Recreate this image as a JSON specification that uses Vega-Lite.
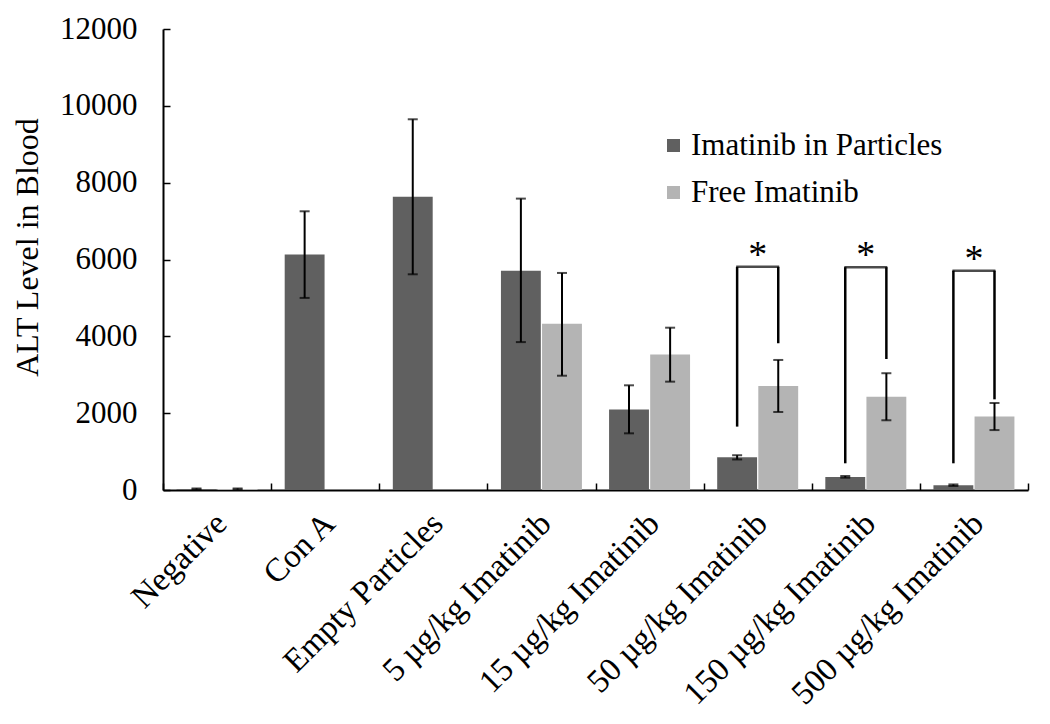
{
  "$schema": "https://vega.github.io/schema/vega-lite/v6.json",
  "width": 865,
  "height": 461,
  "autosize": {"type": "none"},
  "padding": {"left": 163, "top": 29, "right": 22, "bottom": 234},
  "background": "white",
  "config": {
    "view": {"stroke": null},
    "font": "Liberation Serif",
    "axis": {
      "grid": false,
      "domainColor": "black",
      "domainWidth": 2,
      "tickColor": "black",
      "tickWidth": 1.5,
      "labelColor": "black",
      "labelFont": "Liberation Serif",
      "labelFontSize": 31,
      "titleFont": "Liberation Serif",
      "titleFontSize": 32,
      "titleFontWeight": "normal",
      "titleColor": "black"
    },
    "axisX": {
      "tickSize": -7,
      "tickBand": "extent",
      "labelAngle": -45,
      "labelAlign": "right",
      "labelBaseline": "middle",
      "labelPadding": 35,
      "labelOffset": 4,
      "labelFontSize": 33,
      "labelLimit": 0,
      "title": null
    },
    "axisY": {
      "tickSize": -7,
      "labelPadding": 33,
      "titleX": -126,
      "titleY": 218,
      "titleAngle": -90,
      "titleAlign": "center",
      "titleBaseline": "alphabetic"
    }
  },
  "datasets": {
    "bars": [
      {"group": "Negative", "series": "Imatinib in Particles", "value": 25, "lo": 10, "hi": 40},
      {"group": "Negative", "series": "Free Imatinib", "value": 25, "lo": 10, "hi": 40},
      {"group": "Con A", "series": "Imatinib in Particles", "value": 6130, "lo": 5000, "hi": 7255},
      {"group": "Empty Particles", "series": "Imatinib in Particles", "value": 7635, "lo": 5615, "hi": 9650},
      {"group": "5 µg/kg Imatinib", "series": "Imatinib in Particles", "value": 5710, "lo": 3850, "hi": 7585},
      {"group": "5 µg/kg Imatinib", "series": "Free Imatinib", "value": 4330, "lo": 2975, "hi": 5650},
      {"group": "15 µg/kg Imatinib", "series": "Imatinib in Particles", "value": 2095, "lo": 1475, "hi": 2725},
      {"group": "15 µg/kg Imatinib", "series": "Free Imatinib", "value": 3530, "lo": 2820, "hi": 4225},
      {"group": "50 µg/kg Imatinib", "series": "Imatinib in Particles", "value": 850, "lo": 795, "hi": 905},
      {"group": "50 µg/kg Imatinib", "series": "Free Imatinib", "value": 2710, "lo": 2030, "hi": 3385},
      {"group": "150 µg/kg Imatinib", "series": "Imatinib in Particles", "value": 340, "lo": 320, "hi": 365},
      {"group": "150 µg/kg Imatinib", "series": "Free Imatinib", "value": 2430, "lo": 1815, "hi": 3040},
      {"group": "500 µg/kg Imatinib", "series": "Imatinib in Particles", "value": 125, "lo": 105, "hi": 145},
      {"group": "500 µg/kg Imatinib", "series": "Free Imatinib", "value": 1915, "lo": 1560, "hi": 2265}
    ],
    "legs": [
      {"group": "50 µg/kg Imatinib", "series": "Imatinib in Particles", "low": 1650, "top": 5810},
      {"group": "50 µg/kg Imatinib", "series": "Free Imatinib", "low": 3820, "top": 5810},
      {"group": "150 µg/kg Imatinib", "series": "Imatinib in Particles", "low": 695, "top": 5800},
      {"group": "150 µg/kg Imatinib", "series": "Free Imatinib", "low": 3410, "top": 5800},
      {"group": "500 µg/kg Imatinib", "series": "Imatinib in Particles", "low": 695, "top": 5710},
      {"group": "500 µg/kg Imatinib", "series": "Free Imatinib", "low": 2360, "top": 5710}
    ],
    "tops": [
      {"group": "50 µg/kg Imatinib", "top": 5810, "label": "*"},
      {"group": "150 µg/kg Imatinib", "top": 5800, "label": "*"},
      {"group": "500 µg/kg Imatinib", "top": 5710, "label": "*"}
    ]
  },
  "layer": [
    {
      "data": {"name": "bars"},
      "mark": {"type": "bar"},
      "encoding": {
        "x": {"field": "group", "type": "nominal", "scale": {"domain": ["Negative", "Con A", "Empty Particles", "5 µg/kg Imatinib", "15 µg/kg Imatinib", "50 µg/kg Imatinib", "150 µg/kg Imatinib", "500 µg/kg Imatinib"], "paddingInner": 0, "paddingOuter": 0}},
        "xOffset": {"field": "series", "type": "nominal", "scale": {"domain": ["Imatinib in Particles", "Free Imatinib"], "paddingInner": 0.03, "paddingOuter": 0.33}},
        "y": {"field": "value", "type": "quantitative", "title": "ALT Level in Blood", "scale": {"domain": [0, 12000], "nice": false},
          "axis": {"values": [0, 2000, 4000, 6000, 8000, 10000, 12000], "format": "d"}},
        "color": {"field": "series", "type": "nominal", "scale": {"domain": ["Imatinib in Particles", "Free Imatinib"], "range": ["#606060", "#b4b4b4"]},
          "legend": {"orient": "none", "legendX": 495, "legendY": 101, "title": null, "symbolType": "square", "symbolSize": 170, "symbolStrokeWidth": 0, "labelFont": "Liberation Serif", "labelFontSize": 31, "labelColor": "black", "labelLimit": 0, "rowPadding": 15, "labelOffset": 2, "padding": 0}}
      }
    },
    {
      "data": {"name": "bars"},
      "mark": {"type": "rule", "color": "black", "strokeWidth": 2},
      "encoding": {
        "x": {"field": "group", "type": "nominal"},
        "xOffset": {"field": "series", "type": "nominal"},
        "y": {"field": "lo", "type": "quantitative", "title": "ALT Level in Blood"},
        "y2": {"field": "hi"}
      }
    },
    {
      "data": {"name": "bars"},
      "mark": {"type": "tick", "color": "black", "size": 10, "thickness": 2},
      "encoding": {
        "x": {"field": "group", "type": "nominal"},
        "xOffset": {"field": "series", "type": "nominal"},
        "y": {"field": "hi", "type": "quantitative", "title": "ALT Level in Blood"}
      }
    },
    {
      "data": {"name": "bars"},
      "mark": {"type": "tick", "color": "black", "size": 10, "thickness": 2},
      "encoding": {
        "x": {"field": "group", "type": "nominal"},
        "xOffset": {"field": "series", "type": "nominal"},
        "y": {"field": "lo", "type": "quantitative", "title": "ALT Level in Blood"}
      }
    },
    {
      "data": {"name": "legs"},
      "mark": {"type": "rule", "color": "black", "strokeWidth": 2.5},
      "encoding": {
        "x": {"field": "group", "type": "nominal"},
        "xOffset": {"field": "series", "type": "nominal"},
        "y": {"field": "low", "type": "quantitative", "title": "ALT Level in Blood"},
        "y2": {"field": "top"}
      }
    },
    {
      "data": {"name": "tops"},
      "mark": {"type": "tick", "color": "black", "size": 43, "thickness": 2.5},
      "encoding": {
        "x": {"field": "group", "type": "nominal"},
        "y": {"field": "top", "type": "quantitative", "title": "ALT Level in Blood"}
      }
    },
    {
      "data": {"name": "tops"},
      "mark": {"type": "text", "color": "black", "font": "Liberation Serif", "fontSize": 38, "baseline": "alphabetic", "align": "center", "dy": 0},
      "encoding": {
        "x": {"field": "group", "type": "nominal"},
        "y": {"field": "top", "type": "quantitative", "title": "ALT Level in Blood"},
        "text": {"field": "label"}
      }
    }
  ]
}
